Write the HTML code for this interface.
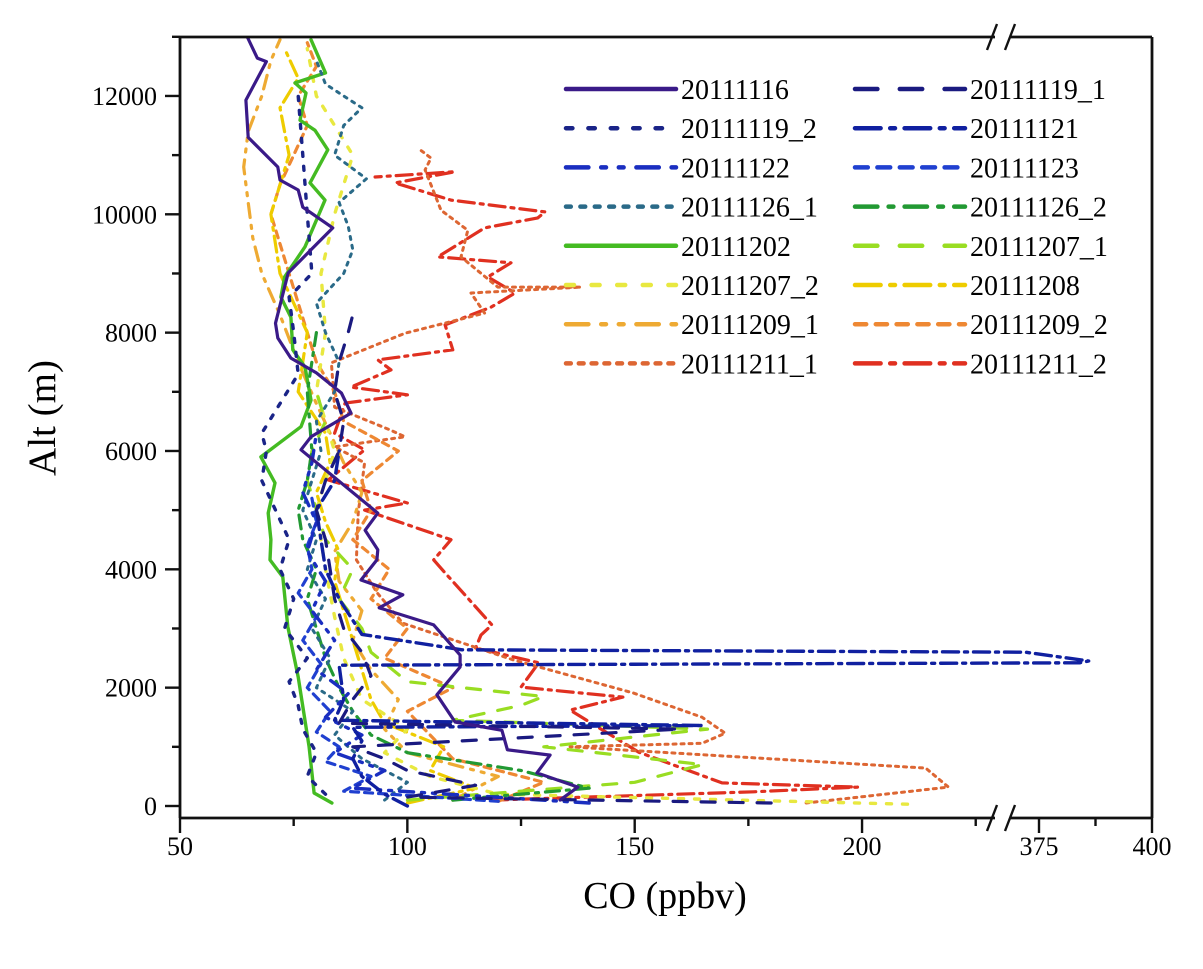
<!DOCTYPE html>
<html><head><meta charset="utf-8">
<style>
html,body{margin:0;padding:0;background:#fff;}
svg{display:block;font-family:"Liberation Serif",serif;}
</style></head>
<body>
<svg id="chart" width="1203" height="969" viewBox="0 0 1203 969">
<g id="series"></g>
<g id="axes"></g>
<g id="legend"></g>
<text x="665" y="908" font-size="38" text-anchor="middle">CO (ppbv)</text>
<text transform="translate(55,418) rotate(-90)" font-size="39" text-anchor="middle">Alt (m)</text>
</svg>
<script>
const seriesNames = ["20111116","20111119_1","20111119_2","20111121","20111122","20111123","20111126_1","20111126_2","20111202","20111207_1","20111207_2","20111208","20111209_1","20111209_2","20111211_1","20111211_2"];
const seriesColors = ["#3a1a88","#1a1a80","#1a2488","#1020a0","#1a2ec0","#2040d0","#2a6a88","#229933","#44bb22","#99dd22","#e8e840","#eecc00","#eeaa33","#ee8833","#dd6633","#e03020"];
const seriesDash = ["","14,14","4,10","16,6,3,6","14,8,3,8,3,8","8,6","3,6","14,7,3,7","","14,14","5,11","16,6,3,6","14,8,3,8,3,8","7,6","3,5","16,6,3,6"];
const seriesWidth = [3.2,3.2,3.4,3.4,3.4,3.2,3,3.2,3.4,3.2,3.4,3.2,3.2,3.2,3,3.2];

const alt_20111116 = [12980,12640,12580,11930,11300,10800,10580,10410,10120,9770,9400,9010,8160,7910,7570,7320,6980,6640,6240,6020,4950,4660,4330,4160,3820,3570,3350,3060,2550,2350,1880,1420,1280,950,860,560,320,100];
const co_20111116 = [64.9,67,69,64.5,65,71.5,72,76,77,83.6,78.8,73.8,71,71.5,74.4,80,85.5,87.6,78.8,76.6,93.5,90.7,93.5,93.3,89.8,99,93.8,105.8,111.6,111.6,106.5,110.5,120.8,122,131.4,128.5,137.5,133.6];

const alt_20111119_1 = [50,150,350,600,800,1000,1300,1400,1800,2200,2600,3000,3500,4000,4500,5000,5500,6000,6500,7000,7500,8000,8300];
const co_20111119_1 = [180,100,115,100,95,88,160,85,88,92,90,86,84,83,82,80,82,85,86,84,85,87,88];

const alt_20111119_2 = [200,500,900,1300,1700,2100,2500,3000,3500,4000,4500,5000,5500,6000,6300,6800,7300,8000,8600,9000,10000,11000,12000];
const co_20111119_2 = [82,78,80,77,76,74,78,73,75,72,74,71,68,69,68,72,76,75,74,79,78,77,76];

const alt_20111121 = [0,200,500,800,1100,1330,1360,1450,1800,2380,2420,2450,2600,2640,2900,3500,4000,5000,5500,6000];
const co_20111121 = [100,95,90,88,90,88,165,84,86,85,384,386,372,112,90,85,82,80,84,85];

const alt_20111122 = [50,300,600,900,1200,1500,1900,2300,2800,3300,3800,4300,4800,5300,5800,6300];
const co_20111122 = [140,88,95,84,90,82,87,80,84,79,82,78,80,77,79,80];

const alt_20111123 = [80,250,500,750,1000,1250,1600,2000,2400,2800,3200,3600,4000,4400,4800,5200];
const co_20111123 = [120,86,92,82,85,80,83,78,81,77,80,76,79,78,80,79];

const alt_20111126_1 = [100,400,800,1200,1600,2000,2500,3000,3500,4000,4500,5000,5500,6000,6500,7000,7500,8000,8500,9000,9400,9800,10200,10600,11000,11500,11800,12200,12600];
const co_20111126_1 = [95,100,90,84,88,80,83,79,82,78,80,77,79,81,80,84,85,82,80,86,88,87,85,91,84,86,90,82,80];

const alt_20111126_2 = [100,300,600,900,1200,1600,2000,2500,3000,3500,4000,4500,5000,5500,6000,7000,8000];
const co_20111126_2 = [110,140,125,100,92,88,85,82,80,78,80,77,76,78,79,78,80];

const alt_20111202 = [50,220,1000,2180,3030,3870,4160,4500,4950,5460,5900,6410,6860,7420,7710,8260,8600,8940,9450,10240,10530,11090,11420,11590,12050,12220,12390,12950];
const co_20111202 = [83.4,79.5,78.4,76,73.7,72.6,69.8,70,69.4,70.9,67.8,76.6,78.8,77.5,74.8,74.4,72.2,73,77.5,81.9,78.6,82.5,79.7,76.4,77.7,75.3,82,78.8];

const alt_20111207_1 = [100,400,700,1000,1300,1450,1700,1850,2100,2600,3000,3500,4000,4500,5000,5500,6000,6500,7000];
const co_20111207_1 = [100,150,165,130,166,110,125,130,100,92,90,85,88,82,80,78,79,82,80];

const alt_20111207_2 = [30,200,500,900,1300,1800,2500,3200,4000,5000,6000,7000,8000,9000,10000,11000,12000,12800];
const co_20111207_2 = [210,120,105,95,100,90,86,84,82,80,84,80,82,81,84,88,80,78];

const alt_20111208 = [50,300,600,1000,1400,1800,2300,2800,3300,3800,4300,4800,5300,5800,6300,7000,8000,9000,10000,11000,11800,12300,12800];
const co_20111208 = [100,115,105,108,95,92,90,88,86,84,85,82,80,83,82,76,78,72,70,74,72,76,73];

const alt_20111209_1 = [100,500,900,1300,1800,2300,2800,3300,3800,4300,4800,5300,5800,6300,6800,7500,8300,9000,9600,10200,10800,11400,12000,12600,12950];
const co_20111209_1 = [110,120,100,95,98,92,88,90,85,84,88,90,86,83,80,76,72,68,66,65,64,65,68,70,72];

const alt_20111209_2 = [80,400,800,1200,1600,2000,2500,3000,3500,4000,4500,5000,5500,6000,6500,7000,7500,8000,8500,9000,9500,10000,10500,11000,11500,12000,12500,12900];
const co_20111209_2 = [120,130,110,105,100,110,95,100,92,96,88,92,90,98,86,84,80,78,76,74,72,70,72,75,78,76,80,78];

const alt_20111211_1 = [50,320,640,1000,1060,1230,1500,1910,2470,3090,3600,4160,4950,5800,6070,6240,6350,6740,7490,7990,8330,8670,8770,8770,9280,9730,10070,10750,10950,11120];
const co_20111211_1 = [187.7,219,214,135.8,164.8,169.9,164.8,149.7,123.3,99,93.4,88.8,89.2,90.6,84,99.5,96.4,84,83.3,99.5,117,114,138.2,119.9,111.8,113.3,107.4,103.9,105.2,102.3];

const alt_20111211_2 = [100,240,320,390,910,1620,1840,2010,2420,2670,2890,3060,3940,4160,4500,5000,5120,5510,6020,6300,6810,6950,7080,7370,7540,7710,8130,8430,8670,8940,9180,9280,9770,9940,10040,10240,10530,10720,10630];
const co_20111211_2 = [118.6,176.2,199,169.2,150.9,135.8,147.4,125,128.9,115,116.2,118.6,108.3,105.8,109.6,90.6,100,82.6,90.6,84,86.3,100,87.6,96.4,93.5,110,108.3,118.4,123.7,117.7,122.8,106.7,117,128.7,130.3,109.6,97.3,110.5,92.9];

const altData = [alt_20111116,alt_20111119_1,alt_20111119_2,alt_20111121,alt_20111122,alt_20111123,alt_20111126_1,alt_20111126_2,alt_20111202,alt_20111207_1,alt_20111207_2,alt_20111208,alt_20111209_1,alt_20111209_2,alt_20111211_1,alt_20111211_2];
const coData = [co_20111116,co_20111119_1,co_20111119_2,co_20111121,co_20111122,co_20111123,co_20111126_1,co_20111126_2,co_20111202,co_20111207_1,co_20111207_2,co_20111208,co_20111209_1,co_20111209_2,co_20111211_1,co_20111211_2];

const yTicks = [0,2000,4000,6000,8000,10000,12000];
const xTicks1 = [50,100,150,200];
const xTicks2 = [375,400];

const NS = "http://www.w3.org/2000/svg";
const L = 180, R = 1152, T = 37, B = 818, BRK1 = 995, BRK2 = 1010;
function xs(v){ return v <= 240 ? L + (v - 50) * 4.547 : 1039 + (v - 375) * 4.52; }
function ys(a){ return 806 - a * 0.05917; }
function mk(tag, attrs, parent){ const e = document.createElementNS(NS, tag); for (const k in attrs) e.setAttribute(k, attrs[k]); parent.appendChild(e); return e; }

const sg = document.getElementById("series");
for (let i = altData.length - 1; i >= 0; i--) {
  const pts = altData[i].map((a, j) => xs(coData[i][j]).toFixed(1) + "," + ys(a).toFixed(1)).join(" ");
  const p = mk("polyline", {points: pts, fill: "none", stroke: seriesColors[i], "stroke-width": seriesWidth[i], "stroke-linejoin": "round", "stroke-linecap": "round"}, sg);
  if (seriesDash[i]) p.setAttribute("stroke-dasharray", seriesDash[i]);
  
  
}

const ax = document.getElementById("axes");
function line(x1,y1,x2,y2,w){ return mk("line", {x1,y1,x2,y2,stroke:"#111","stroke-width":w||2.8}, ax); }
const la = line(L,T,L,B);  
const ra = line(R,T,R,B);  
const b1 = line(L,B,BRK1,B);  
const b2 = line(BRK2,B,R,B);  
const t1 = line(L,T,BRK1,T);  
const t2 = line(BRK2,T,R,T);  
[T,B].forEach(yy => {
  const s1 = line(BRK1-8,yy+13,BRK1+2,yy-13,2.4);  
  const s2 = line(BRK2-5,yy+13,BRK2+5,yy-13,2.4);  
});
for (let a = 0; a <= 13000; a += 1000) {
  const major = a % 2000 === 0;
  const tk = line(L - (major ? 15 : 8), ys(a), L, ys(a), 2.4);
  
  
}
yTicks.forEach(a => {
  const t = mk("text", {x: 157, y: ys(a) + 9, "font-size": 26, "text-anchor": "end"}, ax);
  t.textContent = a;
  
  
});
for (let v = 50; v <= 225; v += 25) {
  const major = v % 50 === 0;
  const tk = line(xs(v), B, xs(v), B + (major ? 15 : 8), 2.4);
  
  
}
[375,387.5,400].forEach(v => {
  const major = v !== 387.5;
  const tk = line(xs(v), B, xs(v), B + (major ? 15 : 8), 2.4);
  
  
});
xTicks1.concat(xTicks2).forEach(v => {
  const t = mk("text", {x: xs(v), y: B + 37, "font-size": 26, "text-anchor": "middle"}, ax);
  t.textContent = v;
  
  
});

const lg = document.getElementById("legend");
const legendOrder = ["20111116","20111119_1","20111119_2","20111121","20111122","20111123","20111126_1","20111126_2","20111202","20111207_1","20111207_2","20111208","20111209_1","20111209_2","20111211_1","20111211_2"];
legendOrder.forEach((nm, k) => {
  const i = seriesNames.indexOf(nm);
  const col = k % 2, row = Math.floor(k / 2);
  const x0 = col === 0 ? 566 : 855, y0 = 89 + row * 39.2;
  const g = mk("g", {}, lg);
  
  
  const ln = mk("line", {x1: x0, y1: y0, x2: x0 + 110, y2: y0, stroke: seriesColors[i], "stroke-width": 4.5, "stroke-linecap": "round"}, g);
  if (seriesDash[i]) ln.setAttribute("stroke-dasharray", seriesDash[i].split(",").map(d => d * 1.6).join(","));
  
  
  const t = mk("text", {x: x0 + 115, y: y0 + 10, "font-size": 28}, g);
  t.textContent = nm;
  
  
});
</script>
</body></html>
